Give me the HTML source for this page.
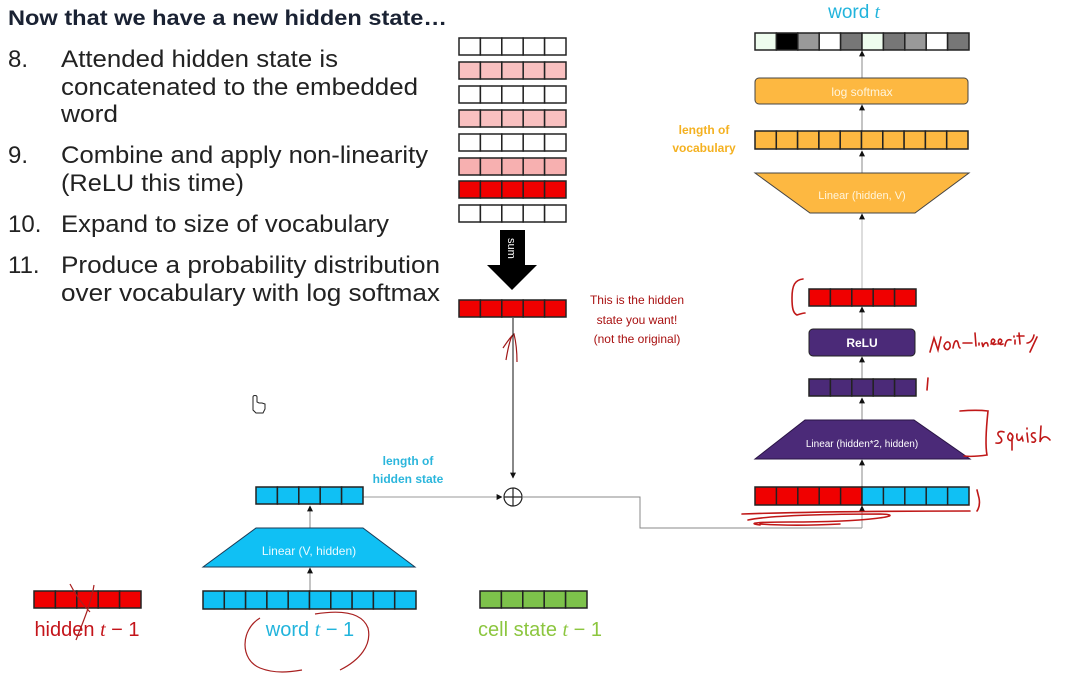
<!DOCTYPE html>
<html><head><meta charset="utf-8">
<style>
html,body{margin:0;padding:0;background:#fff;width:1091px;height:677px;overflow:hidden}
svg{display:block}
.t{font-family:"Liberation Sans",sans-serif}
</style></head><body>
<svg width="1091" height="677" viewBox="0 0 1091 677" xmlns="http://www.w3.org/2000/svg" class="t">
<defs>
<marker id="a" viewBox="0 0 10 10" refX="9" refY="5" markerWidth="6" markerHeight="6" orient="auto"><path d="M0,0L10,5L0,10z" fill="#111"/></marker>
<g id="c5w"><rect x="0" y="0" width="21.4" height="17" /><rect x="21.4" y="0" width="21.4" height="17"/><rect x="42.8" y="0" width="21.4" height="17"/><rect x="64.2" y="0" width="21.4" height="17"/><rect x="85.6" y="0" width="21.4" height="17"/></g>
<g id="c10"><rect x="0" y="0" width="21.3" height="18"/><rect x="21.3" y="0" width="21.3" height="18"/><rect x="42.6" y="0" width="21.3" height="18"/><rect x="63.9" y="0" width="21.3" height="18"/><rect x="85.2" y="0" width="21.3" height="18"/><rect x="106.5" y="0" width="21.3" height="18"/><rect x="127.8" y="0" width="21.3" height="18"/><rect x="149.1" y="0" width="21.3" height="18"/><rect x="170.4" y="0" width="21.3" height="18"/><rect x="191.7" y="0" width="21.3" height="18"/></g>
</defs>

<!-- left text -->
<text x="8" y="25" font-size="21.5" font-weight="bold" fill="#1a2233" textLength="439" lengthAdjust="spacingAndGlyphs">Now that we have a new hidden state…</text>
<g font-size="24" fill="#222">
<text x="8" y="67">8.</text><text x="61" y="67" textLength="277" lengthAdjust="spacingAndGlyphs">Attended hidden state is</text>
<text x="61" y="95" textLength="357" lengthAdjust="spacingAndGlyphs">concatenated to the embedded</text>
<text x="61" y="122" textLength="57" lengthAdjust="spacingAndGlyphs">word</text>
<text x="8" y="163">9.</text><text x="61" y="163" textLength="367" lengthAdjust="spacingAndGlyphs">Combine and apply non-linearity</text>
<text x="61" y="191" textLength="183" lengthAdjust="spacingAndGlyphs">(ReLU this time)</text>
<text x="8" y="232">10.</text><text x="61" y="232" textLength="328" lengthAdjust="spacingAndGlyphs">Expand to size of vocabulary</text>
<text x="8" y="273">11.</text><text x="61" y="273" textLength="379" lengthAdjust="spacingAndGlyphs">Produce a probability distribution</text>
<text x="61" y="301" textLength="379" lengthAdjust="spacingAndGlyphs">over vocabulary with log softmax</text>
</g>

<!-- stack -->
<g stroke="#222" stroke-width="1.5">
<use href="#c5w" x="459" y="38" fill="#fff"/>
<use href="#c5w" x="459" y="62" fill="#f9c0c0"/>
<use href="#c5w" x="459" y="86" fill="#fff"/>
<use href="#c5w" x="459" y="110" fill="#f9c0c0"/>
<use href="#c5w" x="459" y="134" fill="#fff"/>
<use href="#c5w" x="459" y="158" fill="#f7b0b0"/>
<use href="#c5w" x="459" y="181" fill="#f00000"/>
<use href="#c5w" x="459" y="205" fill="#fff"/>
<use href="#c5w" x="459" y="300" fill="#f00000"/>
</g>
<path d="M500,230H525V265H537L512,290L487,265H500Z" fill="#000"/>
<text x="0" y="0" font-size="11" fill="#fff" transform="translate(508,238) rotate(90)">sum</text>
<g font-size="12" fill="#a81010" text-anchor="middle">
<text x="637" y="304">This is the hidden</text>
<text x="637" y="324">state you want!</text>
<text x="637" y="343">(not the original)</text>
</g>
<path d="M506,360C508,348 510,340 512,336 M503,348C507,342 511,336 514,334C516,342 517,352 517,362" stroke="#a01818" fill="none" stroke-width="1.2"/>

<!-- connectors -->
<g stroke="#888" stroke-width="1" fill="none">
<line x1="513" y1="318" x2="513" y2="478" stroke="#111" marker-end="url(#a)"/>
<line x1="363" y1="497" x2="502" y2="497" stroke="#999" marker-end="url(#a)"/>
<polyline points="523,497 640,497 640,528 862,528"/>
<line x1="862" y1="528" x2="862" y2="506" stroke="#999" marker-end="url(#a)"/>
<line x1="310" y1="591" x2="310" y2="568" marker-end="url(#a)"/>
<line x1="310" y1="528" x2="310" y2="506" marker-end="url(#a)"/>
<line x1="862" y1="487" x2="862" y2="460" marker-end="url(#a)"/>
<line x1="862" y1="420" x2="862" y2="398" marker-end="url(#a)"/>
<line x1="862" y1="379" x2="862" y2="357" marker-end="url(#a)"/>
<line x1="862" y1="329" x2="862" y2="307" marker-end="url(#a)"/>
<line x1="862" y1="289" x2="862" y2="214" stroke="#bbb" marker-end="url(#a)"/>
<line x1="862" y1="173" x2="862" y2="151" marker-end="url(#a)"/>
<line x1="862" y1="131" x2="862" y2="105" marker-end="url(#a)"/>
<line x1="862" y1="78" x2="862" y2="51" marker-end="url(#a)"/>
</g>
<circle cx="513" cy="497" r="9" fill="#fff" stroke="#222" stroke-width="1.2"/>
<path d="M504,497H522M513,488V506" stroke="#222" stroke-width="1.2"/>

<!-- bottom left -->
<g font-size="12" font-weight="bold" fill="#2bb6dc" text-anchor="middle">
<text x="408" y="465">length of</text><text x="408" y="483">hidden state</text>
</g>
<g stroke="#222" stroke-width="1.5">
<use href="#c5w" x="256" y="487" fill="#10c0f4"/>
<use href="#c10" x="203" y="591" fill="#10c0f4"/>
<use href="#c5w" x="34" y="591" fill="#f00000"/>
<use href="#c5w" x="480" y="591" fill="#7dc24b"/>
</g>
<path d="M256,528H363L415,567H203Z" fill="#10c0f4" stroke="#1b3a55" stroke-width="1"/>
<text x="309" y="555" font-size="12" fill="#eafaff" text-anchor="middle">Linear (V, hidden)</text>
<g font-size="20" text-anchor="middle">
<text x="87" y="636" fill="#c4141a">hidden <tspan font-family="Liberation Serif" font-style="italic">t</tspan> − 1</text>
<text x="310" y="636" fill="#22b4dc">word <tspan font-family="Liberation Serif" font-style="italic">t</tspan> − 1</text>
<text x="540" y="636" fill="#8cc63f">cell state <tspan font-family="Liberation Serif" font-style="italic">t</tspan> − 1</text>
</g>
<g stroke="#a82020" fill="none" stroke-width="1.2">
<path d="M70,584C76,596 84,606 90,612M94,585C92,600 84,620 76,640"/>
<path d="M260,618C240,630 240,660 260,668C275,674 290,672 302,670M315,614C340,610 362,612 368,628C372,645 360,660 340,670"/>
</g>

<!-- right column -->
<g stroke="#222" stroke-width="1.5">
<rect x="755" y="487" width="107" height="18" fill="#f00000"/>
<rect x="862" y="487" width="107" height="18" fill="#10c0f4"/>
<path d="M776.4,487V505M797.8,487V505M819.2,487V505M840.6,487V505M883.4,487V505M904.8,487V505M926.2,487V505M947.6,487V505" stroke="#222"/>
<use href="#c5w" x="809" y="379" fill="#4b2a78"/>
<use href="#c5w" x="809" y="289" fill="#f00000"/>
</g>
<path d="M805,420H914L970,459H755Z" fill="#4b2a78" stroke="#2a1445"/>
<text x="862" y="447" font-size="10" fill="#fff" text-anchor="middle">Linear (hidden*2, hidden)</text>
<rect x="809" y="329" width="106" height="27" rx="4" fill="#4b2a78" stroke="#222"/>
<text x="862" y="347" font-size="12" font-weight="bold" fill="#fff" text-anchor="middle">ReLU</text>

<path d="M755,173H969L915,213H810Z" fill="#fdb841" stroke="#444"/>
<text x="862" y="199" font-size="11" fill="#fff5dc" text-anchor="middle">Linear (hidden, V)</text>
<g stroke="#222" stroke-width="1.5">
<use href="#c10" x="755" y="131" fill="#fdb841"/>
</g>
<g font-size="12" font-weight="bold" fill="#f4b120" text-anchor="middle">
<text x="704" y="134">length of</text><text x="704" y="152">vocabulary</text>
</g>
<rect x="755" y="78" width="213" height="26" rx="4" fill="#fdb841" stroke="#444"/>
<text x="862" y="96" font-size="12" fill="#fff5dc" text-anchor="middle">log softmax</text>
<g stroke="#222" stroke-width="1.5">
<rect x="755" y="33" width="21.4" height="17" fill="#eefcee"/>
<rect x="776.4" y="33" width="21.4" height="17" fill="#000"/>
<rect x="797.8" y="33" width="21.4" height="17" fill="#999"/>
<rect x="819.2" y="33" width="21.4" height="17" fill="#fff"/>
<rect x="840.6" y="33" width="21.4" height="17" fill="#777"/>
<rect x="862" y="33" width="21.4" height="17" fill="#eefcee"/>
<rect x="883.4" y="33" width="21.4" height="17" fill="#777"/>
<rect x="904.8" y="33" width="21.4" height="17" fill="#999"/>
<rect x="926.2" y="33" width="21.4" height="17" fill="#fff"/>
<rect x="947.6" y="33" width="21.4" height="17" fill="#777"/>
</g>
<text x="854" y="18" font-size="19" fill="#22b4dc" text-anchor="middle">word <tspan font-family="Liberation Serif" font-style="italic">t</tspan></text>

<!-- handwriting -->
<g stroke="#c01818" fill="none" stroke-width="1.6" stroke-linecap="round">
<path d="M803,279C795,280 792,285 792,298C792,308 793,313 797,315C800,314 803,313 805,313"/>
<path d="M930,352L934,338L938,350L941,337M944,346C946,340 951,341 950,347C948,351 945,350 944,346M953,348C954,343 955,340 957,341C959,343 958,347 960,348M963,343H972M975,333L976,346M979,343L979,345M982,343L983,347C984,342 988,341 988,346M991,344C995,343 996,340 993,339C990,340 991,346 996,344M998,344C1002,343 1003,340 1000,339C997,340 998,346 1003,344M1005,346C1006,340 1008,339 1011,340M1014,336V337M1015,340V344M1019,333L1020,344M1017,336H1024M1027,343C1030,343 1033,340 1034,335M1037,337L1030,352"/>
<path d="M928,378L927,390"/>
<path d="M960,411C972,410 980,410 988,411C986,430 985,445 987,455C980,456 972,457 964,456"/>
<path d="M1004,432C998,430 996,434 1000,437C1003,440 1002,444 996,443M1010,433C1006,436 1008,442 1012,440C1014,436 1012,434 1010,433M1012,438L1012,450M1017,434C1016,440 1019,443 1022,437L1023,441M1027,433L1028,442M1027,428V429M1035,433C1031,432 1030,436 1034,438C1037,440 1035,443 1032,442M1041,426L1040,442C1042,436 1046,435 1050,440"/>
<path d="M977,490L979,498C980,503 979,508 977,511"/>
<path d="M742,514C800,512 900,511 970,511M748,520C770,515 840,514 880,514C910,515 870,522 790,522C760,522 745,523 760,525M760,524C790,526 820,525 840,524"/>
</g>
<!-- cursor -->
<path d="M253,397V410L256,413H263L265,409V404L262,403L259,403L257,402V397C257,395 253,395 253,397Z" fill="#fff" stroke="#222" stroke-width="1"/>
</svg>
</body></html>
